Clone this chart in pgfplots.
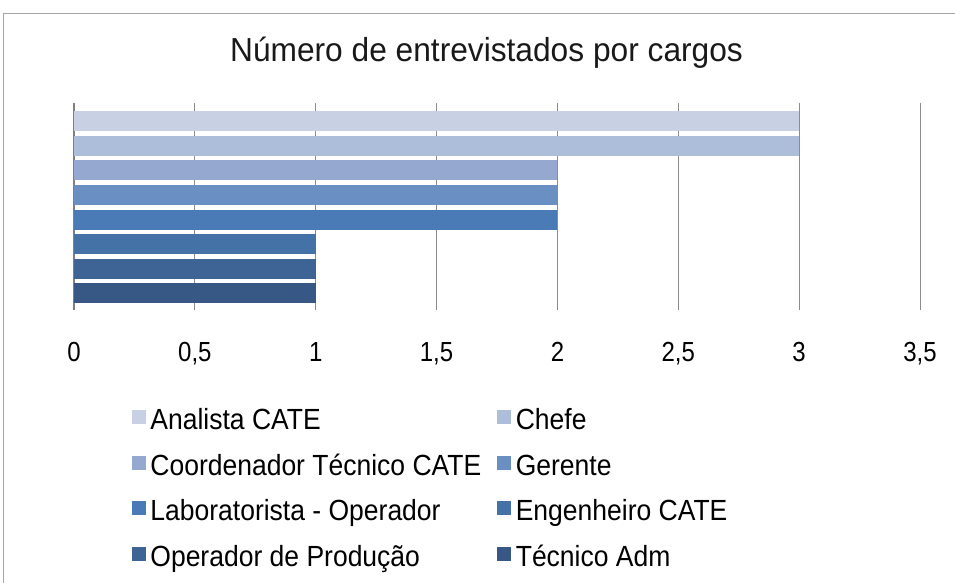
\documentclass[border=0pt]{standalone}
\usepackage{fontspec}
\setmainfont{Liberation Sans}
\usepackage{pgfplots}
\pgfplotsset{compat=1.18}
\definecolor{c1}{HTML}{C8D0E4}
\definecolor{c2}{HTML}{ADBEDB}
\definecolor{c3}{HTML}{94A8D0}
\definecolor{c4}{HTML}{6A8FC3}
\definecolor{c5}{HTML}{4A7BB7}
\definecolor{c6}{HTML}{4472A6}
\definecolor{c7}{HTML}{3E6495}
\definecolor{c8}{HTML}{375884}
\definecolor{gridc}{HTML}{8C8C8C}
\definecolor{framec}{HTML}{A6A6A6}
\newcommand{\legtxt}[1]{\scalebox{1}[1.1]{#1}}
\begin{document}
\begin{tikzpicture}[x=1pt,y=1pt]
\useasboundingbox (0,0) rectangle (955,583);
\draw[color=framec, line width=1.5pt] (3.5,-2) -- (3.5,569.5) -- (958,569.5);
\node[anchor=base, inner sep=0pt, font=\fontsize{31.7}{36}\selectfont, text=black!90] at (486.5,521) {\scalebox{1}[1.05]{Número de entrevistados por cargos}};
\begin{axis}[
  at={(74pt,273pt)}, anchor=south west,
  scale only axis, width=846pt, height=207pt,
  xbar, bar width=20pt, bar shift=0pt,
  xmin=0, xmax=3.5, ymin=0.33, ymax=8.73,
  xtick={0,0.5,...,3.5}, ytick=\empty,
  xmajorgrids, grid style={color=gridc, line width=1pt},
  axis line style={draw=none},
  major tick length=0pt,
  extra x ticks={0}, extra x tick labels={},
  extra x tick style={grid style={color=gray, line width=2pt}},
  /pgf/number format/.cd, use comma, fixed, assume math mode=true, /pgfplots/.cd,
  xticklabel={\scalebox{1}[1.15]{\pgfmathprintnumber{\tick}}},
  xticklabel style={font=\fontsize{24}{28}\selectfont, anchor=base, yshift=-52pt, inner sep=0pt},
  legend columns=2,
  legend cell align=left,
  legend style={at={(axis description cs:0.0682,-0.483)}, anchor=north west, draw=none, fill=none, inner sep=0pt,
    font=\fontsize{26.5}{30}\selectfont, row sep=20.1pt,
    nodes={inner sep=0pt, text height=19pt, text depth=6pt},
    /tikz/every odd column/.append style={column sep=4.5pt},
    /tikz/every even column/.append style={column sep=16pt}},
  legend image code/.code={\fill[#1] (0pt,-1pt) rectangle (14pt,13pt);},
]
\addplot[fill=c1, draw=none] coordinates {(3,8)};
\addlegendentry{\legtxt{Analista CATE}}
\addplot[fill=c2, draw=none] coordinates {(3,7)};
\addlegendentry{\legtxt{Chefe}}
\addplot[fill=c3, draw=none] coordinates {(2,6)};
\addlegendentry{\legtxt{Coordenador Técnico CATE}}
\addplot[fill=c4, draw=none] coordinates {(2,5)};
\addlegendentry{\legtxt{Gerente}}
\addplot[fill=c5, draw=none] coordinates {(2,4)};
\addlegendentry{\legtxt{Laboratorista - Operador}}
\addplot[fill=c6, draw=none] coordinates {(1,3)};
\addlegendentry{\legtxt{Engenheiro CATE}}
\addplot[fill=c7, draw=none] coordinates {(1,2)};
\addlegendentry{\legtxt{Operador de Produção}}
\addplot[fill=c8, draw=none] coordinates {(1,1)};
\addlegendentry{\legtxt{Técnico Adm}}
\end{axis}
\end{tikzpicture}
\end{document}
